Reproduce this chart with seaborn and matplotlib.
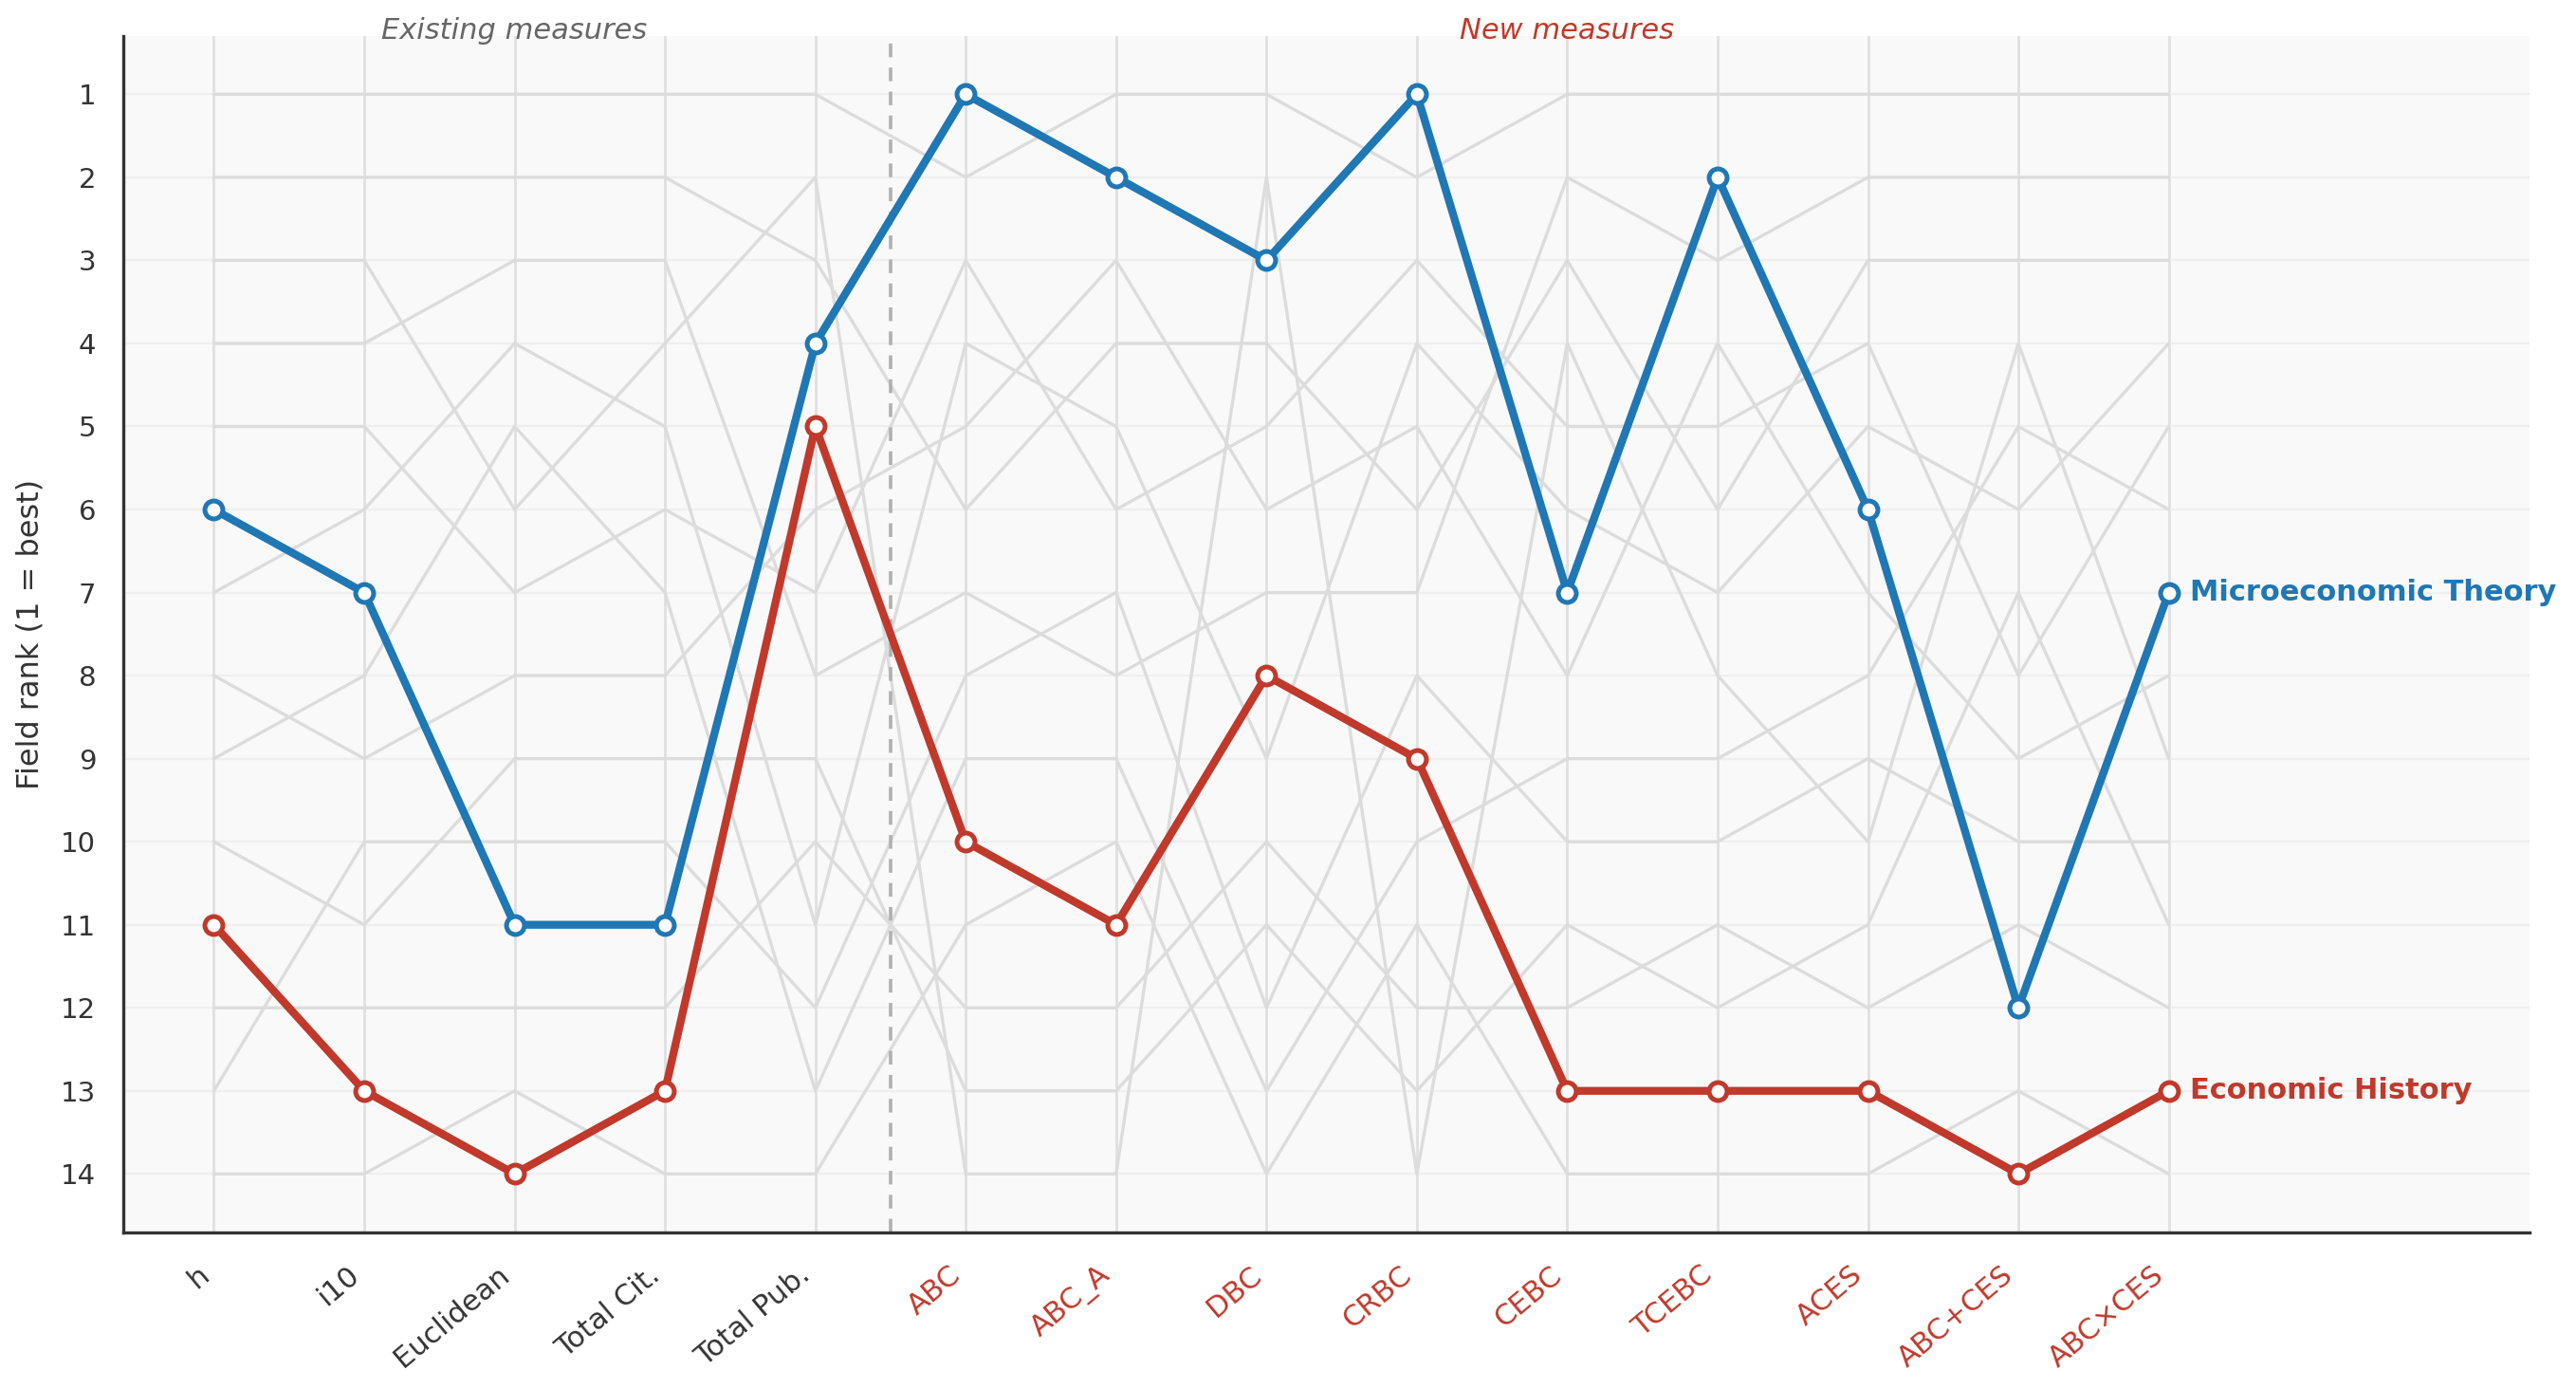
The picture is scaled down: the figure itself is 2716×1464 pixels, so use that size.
import matplotlib
matplotlib.use("Agg")
import matplotlib.pyplot as plt
import seaborn as sns
import pandas as pd

measures = ["h", "i10", "Euclidean", "Total Cit.", "Total Pub.",
            "ABC", "ABC_A", "DBC", "CRBC", "CEBC", "TCEBC", "ACES",
            "ABC+CES", "ABC×CES"]
n_existing = 5

# ranks per field, one value per measure (1 = best)
micro_theory = [6, 7, 11, 11, 4, 1, 2, 3, 1, 7, 2, 6, 12, 7]
econ_history = [11, 13, 14, 13, 5, 10, 11, 8, 9, 13, 13, 13, 14, 13]

econometrics = [1, 1, 1, 1, 1, 2, 1, 1, 2, 1, 1, 1, 1, 1]
macroeconomics = [2, 2, 2, 2, 3, 6, 4, 4, 6, 3, 6, 3, 3, 3]
finance = [3, 3, 6, 4, 2, 14, 14, 2, 14, 4, 8, 10, 4, 9]
labor = [4, 4, 3, 3, 8, 7, 8, 7, 7, 2, 3, 2, 2, 2]
public = [5, 5, 7, 6, 7, 3, 6, 5, 3, 5, 5, 4, 8, 5]
industrial_org = [7, 6, 4, 5, 11, 4, 5, 9, 4, 6, 7, 5, 6, 4]
international = [8, 9, 8, 8, 6, 5, 3, 6, 5, 8, 4, 7, 9, 8]
development = [9, 8, 5, 7, 13, 9, 9, 13, 10, 9, 9, 8, 5, 6]
health = [10, 11, 9, 9, 9, 13, 13, 11, 13, 11, 12, 11, 7, 11]
environmental = [12, 12, 12, 12, 10, 12, 12, 10, 12, 12, 11, 12, 11, 12]
growth = [13, 10, 10, 10, 12, 8, 7, 12, 8, 10, 10, 9, 10, 10]
behavioral = [14, 14, 13, 14, 14, 11, 10, 14, 11, 14, 14, 14, 13, 14]

other_fields = {
    "Econometrics": econometrics,
    "Macroeconomics": macroeconomics,
    "Finance": finance,
    "Labor Economics": labor,
    "Public Economics": public,
    "Industrial Organization": industrial_org,
    "International Economics": international,
    "Development Economics": development,
    "Health Economics": health,
    "Environmental Economics": environmental,
    "Economic Growth": growth,
    "Behavioral Economics": behavioral,
}
highlight = {
    "Microeconomic Theory": (micro_theory, "#1f77b4"),
    "Economic History": (econ_history, "#c0392b"),
}

NEW_COLOR = "#c0392b"

rows = []
for name, ranks in other_fields.items():
    for i, r in enumerate(ranks):
        rows.append({"field": name, "pos": i, "rank": r})
df_other = pd.DataFrame(rows)

sns.set_theme(style="white")
plt.rcParams["font.family"] = ["DejaVu Sans"]

fig = plt.figure(figsize=(13.58, 7.32), dpi=200)
ax = fig.add_axes([0.048, 0.113, 0.934, 0.861])
ax.set_facecolor("#f9f9f9")

# background grid
for i in range(len(measures)):
    ax.axvline(i, color="#e0e0e0", lw=1.0, zorder=0)
for r in range(1, 15):
    ax.axhline(r, color="#efefef", lw=0.8, zorder=0)

sns.lineplot(data=df_other, x="pos", y="rank", units="field", estimator=None,
             color="#dcdcdc", lw=1.2, ax=ax, zorder=1)

ax.axvline(n_existing - 0.5, color="#b0b0b0", lw=1.3, ls=(0, (4, 3)), zorder=2)

for name, (ranks, color) in highlight.items():
    d = pd.DataFrame({"pos": range(len(measures)), "rank": ranks})
    sns.lineplot(data=d, x="pos", y="rank", color=color, lw=3.0,
                 marker="o", markersize=6.8, markerfacecolor="white",
                 markeredgecolor=color, markeredgewidth=1.8, ax=ax, zorder=4)
    ax.text(len(measures) - 1 + 0.14, ranks[-1], name, color=color,
            fontsize=11, fontweight="bold", va="center", ha="left")

ax.set_xlim(-0.6, 15.4)
ax.set_ylim(14.7, 0.3)
ax.set_yticks(range(1, 15))
ax.set_xticks(range(len(measures)))
ax.set_xticklabels(measures, rotation=40, ha="right", fontsize=11)
for i, lbl in enumerate(ax.get_xticklabels()):
    lbl.set_color("#333333" if i < n_existing else NEW_COLOR)
ax.tick_params(axis="y", labelsize=10.5, colors="#333333", length=0, pad=10.5)
ax.tick_params(axis="x", length=0, pad=11)
ax.set_xlabel("")
ax.set_ylabel("Field rank (1 = best)", fontsize=11.5, color="#333333",
              labelpad=6)

ax.text((n_existing - 1) / 2, 0.24, "Existing measures", style="italic",
        color="#666666", fontsize=11, ha="center", va="center")
ax.text((n_existing + len(measures) - 1) / 2, 0.24, "New measures",
        style="italic", color=NEW_COLOR, fontsize=11, ha="center", va="center")

sns.despine(ax=ax)
for s in ["left", "bottom"]:
    ax.spines[s].set_color("#333333")
    ax.spines[s].set_linewidth(1.2)

fig.savefig("out.png", dpi=200)
